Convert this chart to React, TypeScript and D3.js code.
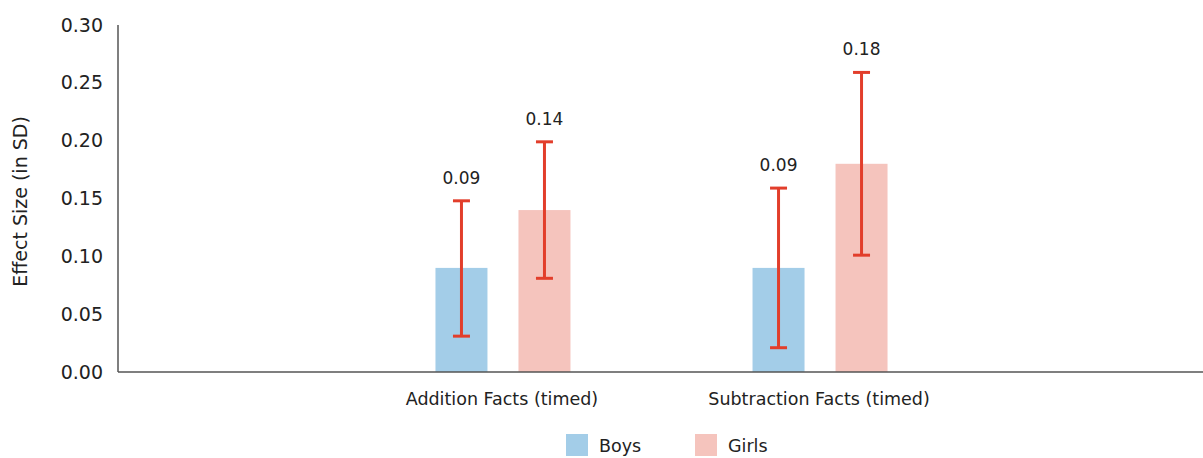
import React, { useEffect, useRef } from 'react';
import * as d3 from 'd3';

const categories = ['Addition Facts (timed)', 'Subtraction Facts (timed)'];
const groups = ['Boys', 'Girls'];
const boysValues = [0.09, 0.09];
const girlsValues = [0.14, 0.18];
const boysLow = [0.031, 0.021];
const boysHigh = [0.148, 0.159];
const girlsLow = [0.081, 0.101];
const girlsHigh = [0.199, 0.259];
const yTicks = [0, 0.05, 0.1, 0.15, 0.2, 0.25, 0.3];

const colors: Record<string, string> = { Boys: '#a3cde8', Girls: '#f5c4bd' };
const errColor = '#e23e2b';
const FONT = '"DejaVu Sans", sans-serif';

const App = () => {
  const ref = useRef<SVGSVGElement>(null);

  useEffect(() => {
    const width = 1203;
    const height = 458;
    const margin = { left: 118, right: 0, top: 25, bottom: 86 };

    const svg = d3.select(ref.current);
    svg.selectAll('*').remove();

    const x = d3.scaleBand<string>()
      .domain(categories)
      .range([margin.left, width - margin.right])
      .paddingInner(0)
      .paddingOuter(0.711);

    // bars inside a group
    const xSub = d3.scaleBand<string>()
      .domain(groups)
      .range([-66.5, 68.5])
      .paddingInner(0.3735)
      .paddingOuter(0);

    const y = d3.scaleLinear().domain([0, 0.3]).range([height - margin.bottom, margin.top]);

    const rows = categories.flatMap((c, i) => [
      { cat: c, group: 'Boys', value: boysValues[i], lo: boysLow[i], hi: boysHigh[i] },
      { cat: c, group: 'Girls', value: girlsValues[i], lo: girlsLow[i], hi: girlsHigh[i] },
    ]);

    const cx = (d: any) => (x(d.cat) as number) + x.bandwidth() / 2 + (xSub(d.group) as number) + xSub.bandwidth() / 2;

    svg.append('g')
      .selectAll('rect')
      .data(rows)
      .enter().append('rect')
      .attr('x', d => cx(d) - xSub.bandwidth() / 2)
      .attr('width', xSub.bandwidth())
      .attr('y', d => y(d.value))
      .attr('height', d => y(0) - y(d.value))
      .attr('fill', d => colors[d.group]);

    // error bars
    const err = svg.append('g').attr('stroke', errColor).attr('stroke-width', 3);
    rows.forEach(d => {
      const c = cx(d);
      err.append('line').attr('x1', c).attr('x2', c).attr('y1', y(d.lo)).attr('y2', y(d.hi));
      err.append('line').attr('x1', c - 8.5).attr('x2', c + 8.5).attr('y1', y(d.lo)).attr('y2', y(d.lo));
      err.append('line').attr('x1', c - 8.5).attr('x2', c + 8.5).attr('y1', y(d.hi)).attr('y2', y(d.hi));
    });

    svg.append('g')
      .selectAll('text')
      .data(rows)
      .enter().append('text')
      .attr('x', d => cx(d))
      .attr('y', d => y(d.hi) - 17)
      .attr('text-anchor', 'middle')
      .style('font-family', FONT)
      .style('font-size', '17px')
      .style('fill', '#222')
      .text(d => d.value.toFixed(2));

    const axisColor = '#555';
    svg.append('line')
      .attr('x1', margin.left).attr('x2', margin.left)
      .attr('y1', y(0.3)).attr('y2', y(0))
      .attr('stroke', axisColor).attr('stroke-width', 1.5);
    svg.append('line')
      .attr('x1', margin.left).attr('x2', width)
      .attr('y1', y(0)).attr('y2', y(0))
      .attr('stroke', axisColor).attr('stroke-width', 1.5);

    svg.append('g')
      .selectAll('text')
      .data(yTicks)
      .enter().append('text')
      .attr('x', 103)
      .attr('y', d => y(d))
      .attr('dy', '0.35em')
      .attr('text-anchor', 'end')
      .style('font-family', FONT)
      .style('font-size', '19px')
      .style('fill', '#222')
      .text(d => d.toFixed(2));

    svg.append('text')
      .attr('transform', `translate(20,${(y(0) + y(0.3)) / 2 + 3}) rotate(-90)`)
      .attr('dy', '0.35em')
      .attr('text-anchor', 'middle')
      .style('font-family', FONT)
      .style('font-size', '19px')
      .style('fill', '#222')
      .text('Effect Size (in SD)');

    svg.append('g')
      .selectAll('text')
      .data(categories)
      .enter().append('text')
      .attr('x', d => (x(d) as number) + x.bandwidth() / 2)
      .attr('y', 399)
      .attr('dy', '0.35em')
      .attr('text-anchor', 'middle')
      .style('font-family', FONT)
      .style('font-size', '17.5px')
      .style('fill', '#222')
      .text(d => d);

    // legend
    const legend = svg.append('g');
    const legendX = [566, 695];
    groups.forEach((g, i) => {
      legend.append('rect')
        .attr('x', legendX[i]).attr('y', 434).attr('width', 22).attr('height', 22)
        .attr('fill', colors[g]);
      legend.append('text')
        .attr('x', legendX[i] + 33).attr('y', 446)
        .attr('dy', '0.35em')
        .style('font-family', FONT)
        .style('font-size', '17.5px')
        .style('fill', '#222')
        .text(g);
    });
  }, []);

  return (
    <svg ref={ref} width={1203} height={458} style={{ position: 'absolute', left: 0, top: 0 }}></svg>
  );
};

export default App;
